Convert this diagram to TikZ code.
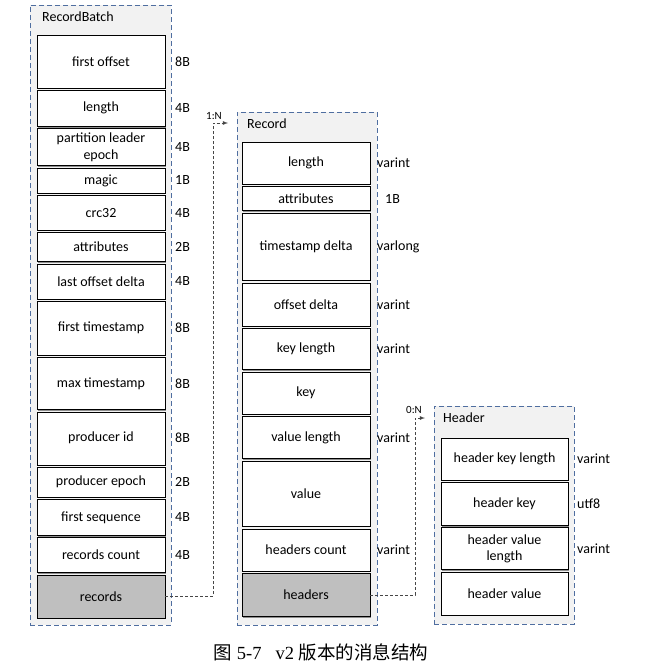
\documentclass[tikz,border=0pt]{standalone}
\usepackage{fontspec}
\setmainfont{Carlito}
\newfontfamily\cjk{Noto Sans CJK SC}
\newfontfamily\capfont{Liberation Serif}
\usepackage{tikz}
\usetikzlibrary{positioning, shadows, arrows}

\definecolor{frame}{RGB}{79,110,160}
\definecolor{panel}{RGB}{242,242,242}
\definecolor{shade}{RGB}{191,191,191}
\definecolor{linkgray}{RGB}{70,70,70}

\begin{document}
\begin{tikzpicture}[
        x=1pt, y=-1pt,
        font=\fontsize{14}{16.5}\selectfont,
        group/.style={draw=frame, dash pattern=on 5pt off 3pt, fill=panel, anchor=north west, outer sep=0pt, inner sep=0pt},
        field/.style={draw, fill=white, outer sep=0pt, inner sep=1pt, align=center, minimum width=128pt,
            drop shadow={shadow xshift=1.2pt, shadow yshift=-1.2pt, fill=black!70, opacity=.6}},
        ref/.style={field, fill=shade},
        size/.style={anchor=west, inner sep=0pt},
        title/.style={anchor=west, inner sep=0pt},
        link/.style={draw=linkgray, dash pattern=on 3pt off 2pt, thick}
    ]
    \useasboundingbox (0,0) rectangle (661,667);

    % containers
    \node[group, minimum width=141pt, minimum height=620pt] (batch) at (30,5) {};
    \node[group, minimum width=140pt, minimum height=513pt] (record) at (237,112) {};
    \node[group, minimum width=140pt, minimum height=218pt] (header) at (434,406) {};
    \node[title] (batch-t) at (42,17) {RecordBatch};
    \node[title] (record-t) at (247,124) {Record};
    \node[title] (header-t) at (443,418) {Header};

    % RecordBatch
    \node[field, anchor=north, minimum height=53pt] (fo) at (101,35) {first offset};
    \node[field, below=2.3pt of fo, minimum height=36pt] (len) {length};
    \node[field, below=2.3pt of len, minimum height=37pt] (ple) {partition leader\\epoch};
    \node[field, below=2.3pt of ple, minimum height=25pt] (magic) {magic};
    \node[field, below=2.3pt of magic, minimum height=35pt] (crc) {crc32};
    \node[field, below=2.3pt of crc, minimum height=29pt] (attr) {attributes};
    \node[field, below=2.3pt of attr, minimum height=35pt] (lod) {last offset delta};
    \node[field, below=2.3pt of lod, minimum height=54pt] (fts) {first timestamp};
    \node[field, below=2.3pt of fts, minimum height=52pt] (mts) {max timestamp};
    \node[field, below=2.3pt of mts, minimum height=53pt] (pid) {producer id};
    \node[field, below=2.3pt of pid, minimum height=30pt] (pep) {producer epoch};
    \node[field, below=2.3pt of pep, minimum height=36pt] (fseq) {first sequence};
    \node[field, below=2.3pt of fseq, minimum height=35pt] (rcnt) {records count};
    \node[ref, below=2.3pt of rcnt, minimum height=43pt] (recs) {records};

    \node[size, right=10pt of fo] (fo-sz) {8B};
    \node[size, right=10pt of len] (len-sz) {4B};
    \node[size, right=10pt of ple] (ple-sz) {4B};
    \node[size, right=10pt of magic] (magic-sz) {1B};
    \node[size, right=10pt of crc] (crc-sz) {4B};
    \node[size, right=10pt of attr] (attr-sz) {2B};
    \node[size, right=10pt of lod] (lod-sz) {4B};
    \node[size, right=10pt of fts] (fts-sz) {8B};
    \node[size, right=10pt of mts] (mts-sz) {8B};
    \node[size, right=10pt of pid] (pid-sz) {8B};
    \node[size, right=10pt of pep] (pep-sz) {2B};
    \node[size, right=10pt of fseq] (fseq-sz) {4B};
    \node[size, right=10pt of rcnt] (rcnt-sz) {4B};

    % Record
    \node[field, anchor=north, minimum height=42pt] (rlen) at (306,142) {length};
    \node[field, below=2.6pt of rlen, minimum height=24pt] (rattr) {attributes};
    \node[field, below=2.6pt of rattr, minimum height=67pt] (tsd) {timestamp delta};
    \node[field, below=2.6pt of tsd, minimum height=43pt] (offd) {offset delta};
    \node[field, below=2.6pt of offd, minimum height=41pt] (klen) {key length};
    \node[field, below=2.6pt of klen, minimum height=42pt] (key) {key};
    \node[field, below=2.6pt of key, minimum height=42pt] (vlen) {value length};
    \node[field, below=2.6pt of vlen, minimum height=65pt] (val) {value};
    \node[field, below=2.6pt of val, minimum height=42pt] (hcnt) {headers count};
    \node[ref, below=2.6pt of hcnt, minimum height=43pt] (hdrs) {headers};

    \node[size, right=7pt of rlen] (rlen-sz) {varint};
    \node[size, right=15pt of rattr] (rattr-sz) {1B};
    \node[size, right=7pt of tsd] (tsd-sz) {varlong};
    \node[size, right=7pt of offd] (offd-sz) {varint};
    \node[size, right=7pt of klen] (klen-sz) {varint};
    \node[size, right=7pt of vlen] (vlen-sz) {varint};
    \node[size, right=7pt of hcnt] (hcnt-sz) {varint};

    % Header
    \node[field, anchor=north, minimum width=127pt, minimum height=42pt] (hkl) at (504.5,438) {header key length};
    \node[field, below=2.3pt of hkl, minimum width=127pt, minimum height=43pt] (hk) {header key};
    \node[field, below=2.3pt of hk, minimum width=127pt, minimum height=42pt] (hvl) {header value\\length};
    \node[field, below=2.3pt of hvl, minimum width=127pt, minimum height=43pt] (hv) {header value};

    \node[size, right=9pt of hkl] (hkl-sz) {varint};
    \node[size, right=9pt of hk] (hk-sz) {utf8};
    \node[size, right=9pt of hvl] (hvl-sz) {varint};

    % links
    \coordinate (fork1) at (213,123);
    \coordinate (tip1) at (228,123);
    \coordinate (fork2) at (415,418);
    \coordinate (tip2) at (425,418);
    \draw[link, -latex] (recs.east) -| (fork1) -- (tip1);
    \draw[link, -latex] (hdrs.east) -| (fork2) -- (tip2);
    \node[font=\fontsize{11}{12}\selectfont, inner sep=0pt] (card1) at (214,116) {1:N};
    \node[font=\fontsize{11}{12}\selectfont, inner sep=0pt] (card2) at (414,410) {0:N};

    \node[font=\capfont\fontsize{18.5}{20}\selectfont] (caption) at (321,652) {{\cjk 图} 5-7\hspace{14pt}v2 {\cjk 版本的消息结构}};

\end{tikzpicture}
\end{document}
